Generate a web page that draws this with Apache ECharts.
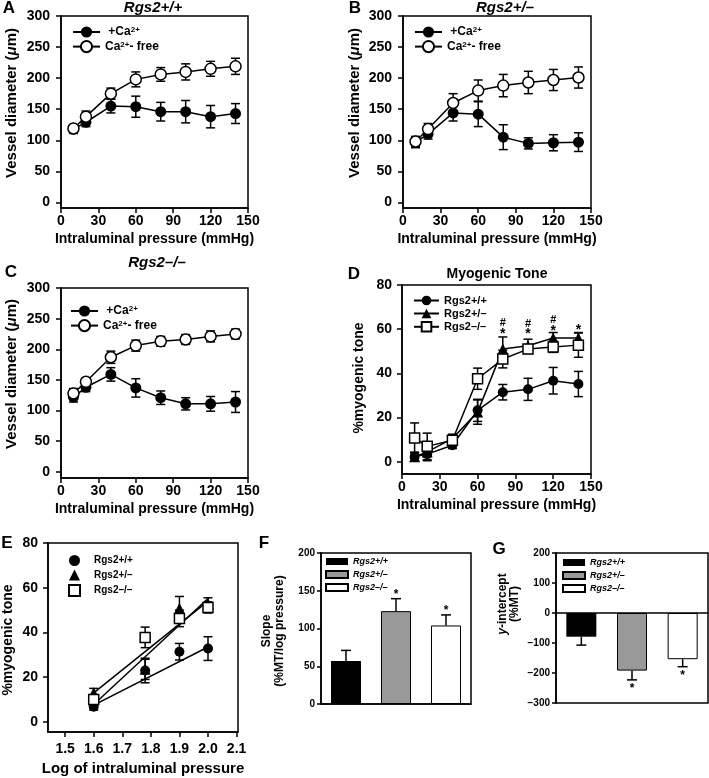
<!DOCTYPE html>
<html>
<head>
<meta charset="utf-8">
<script src="https://cdn.jsdelivr.net/npm/echarts@6/dist/echarts.min.js"></script>
<style>
html, body { margin: 0; padding: 0; background: #fff; }
#chart { width: 709px; height: 778px; }
</style>
</head>
<body>
<div id="chart"></div>
<script>
var FONT = '"Liberation Sans", Arial, Helvetica, sans-serif';

// pressure steps (mmHg) and tick labels
var pressure = [10, 20, 40, 60, 80, 100, 120, 140];
var diamTicks = [0, 50, 100, 150, 200, 250, 300];
var toneTicks = [0, 20, 40, 60, 80];
var logTicks = [1.5, 1.6, 1.7, 1.8, 1.9, 2.0, 2.1];
var groups = ['Rgs2+/+', 'Rgs2+/–', 'Rgs2–/–'];

// A: Rgs2+/+ vessel diameter
var aCa = [118, 129, 155, 154, 146, 146, 138, 143];
var aCaErr = [7, 7, 11, 17, 15, 18, 18, 16];
var aFree = [119, 138, 175, 198, 206, 210, 215, 219];
var aFreeErr = [6, 9, 9, 12, 11, 13, 12, 13];

// B: Rgs2+/-
var bCa = [97, 110, 144, 142, 105, 95, 96, 97];
var bCaErr = [9, 8, 13, 20, 20, 9, 13, 15];
var bFree = [98, 118, 160, 180, 188, 193, 197, 201];
var bFreeErr = [8, 9, 15, 17, 18, 18, 17, 17];

// C: Rgs2-/-
var cCa = [122, 138, 159, 137, 121, 111, 111, 114];
var cCaErr = [8, 7, 11, 15, 11, 10, 12, 17];
var cFree = [128, 147, 187, 206, 213, 216, 221, 225];
var cFreeErr = [8, 6, 10, 9, 8, 8, 9, 8];

// D: myogenic tone (%)
var dWT = [2.3, 3.5, 7.5, 23.3, 31.5, 32.8, 36.7, 35.2];
var dWTErr = [2, 3, 1.5, 5, 3.5, 5, 6, 5.7];
var dHet = [2.3, 4.5, 10.5, 22.5, 51, 52.5, 56, 56];
var dHetErr = [2, 2, 2, 5.5, 5.5, 3, 2.5, 2.5];
var dKO = [10.8, 7, 9.8, 37.6, 46.5, 51, 52, 52.8];
var dKOErr = [6.8, 6, 2, 4.8, 4, 2, 2.5, 5.5];
var dStarX = [80, 100, 120, 140];
var dStarY = [59.3, 59.2, 60.7, 61];
var dHashX = [80, 100, 120];
var dHashY = [62.6, 62.2, 64.4];

// E: tone vs log pressure
var eX = [1.6, 1.78, 1.9, 2.0];
var eWT = [6.8, 23, 31.4, 32.8];
var eWTErr = [1.5, 5.5, 3.7, 5.3];
var eHet = [13, 23.5, 50.8, 53];
var eHetErr = [2, 4.5, 5.3, 2.5];
var eKO = [10, 37.8, 46.3, 51.2];
var eKOErr = [2, 4.6, 3.7, 2.5];
var eFitX = [1.6, 2.0];
var eFitWT = [7.5, 33.5];
var eFitHet = [7.8, 55.2];
var eFitKO = [13, 54];

// F: slope, G: y-intercept
var fVals = [57, 123, 104];
var fErr = [14, 16.5, 14];
var fSig = [0, 1, 1];
var gVals = [-79, -192, -154];
var gErr = [28, 31, 25];
var gSig = [0, 1, 1];

var barColors = ['#000', '#999', '#fff'];

function pairs(xs, ys) {
  return xs.map(function (x, i) { return [x, ys[i]]; });
}
function triples(xs, ys, es) {
  return xs.map(function (x, i) { return [x, ys[i], es[i]]; });
}

function seg(x1, y1, x2, y2) {
  return { type: 'line', shape: { x1: x1, y1: y1, x2: x2, y2: y2 }, style: { stroke: '#000', lineWidth: 1.5 } };
}
function star(x, y, size) {
  return { type: 'text', x: x, y: y, style: { text: '*', fontSize: size, fontWeight: 'bold', fontFamily: FONT, fill: '#000', align: 'center', verticalAlign: 'middle', textAlign: 'center', textVerticalAlign: 'middle' } };
}

function errBar(params, api) {
  var x = api.value(0), y = api.value(1), e = api.value(2);
  var lo = api.coord([x, y - e]), hi = api.coord([x, y + e]);
  return { type: 'group', children: [
    seg(lo[0], lo[1], hi[0], hi[1]),
    seg(hi[0] - 4.5, hi[1], hi[0] + 4.5, hi[1]),
    seg(lo[0] - 4.5, lo[1], lo[0] + 4.5, lo[1])
  ] };
}
function errUp(params, api) {
  var i = api.value(0), v = api.value(1), e = api.value(2), s = api.value(3);
  var b = api.coord([i, v]), t = api.coord([i, v + e]);
  var ch = [seg(b[0], b[1], t[0], t[1]), seg(t[0] - 5, t[1], t[0] + 5, t[1])];
  if (s) ch.push(star(t[0], t[1] - 4, 12));
  return { type: 'group', children: ch };
}
function errDown(params, api) {
  var i = api.value(0), v = api.value(1), e = api.value(2), s = api.value(3);
  var b = api.coord([i, v]), t = api.coord([i, v - e]);
  var ch = [seg(b[0], b[1], t[0], t[1]), seg(t[0] - 5, t[1], t[0] + 5, t[1])];
  if (s) ch.push(star(t[0], t[1] + 9, 12));
  return { type: 'group', children: ch };
}

function errSeries(gi, xs, ys, es) {
  return { type: 'custom', xAxisIndex: gi, yAxisIndex: gi, data: triples(xs, ys, es),
    encode: { x: 0, y: 1 }, renderItem: errBar, z: 2, silent: true };
}
function markStyle(filled) {
  return filled ? { color: '#000', opacity: 1 } : { color: '#fff', borderColor: '#000', borderWidth: 1.5, opacity: 1 };
}
function lineSeries(name, gi, xs, ys, filled, symbol, size) {
  return { name: name, type: 'line', xAxisIndex: gi, yAxisIndex: gi, data: pairs(xs, ys),
    symbol: symbol || 'circle', symbolSize: size || 11, itemStyle: markStyle(filled),
    lineStyle: { color: '#000', width: 1.5 }, z: 3 };
}
function scatterSeries(name, gi, xs, ys, filled, symbol, size) {
  return { name: name, type: 'scatter', xAxisIndex: gi, yAxisIndex: gi, data: pairs(xs, ys),
    symbol: symbol, symbolSize: size, itemStyle: markStyle(filled), z: 4 };
}
function fitSeries(gi, ys) {
  return { type: 'line', xAxisIndex: gi, yAxisIndex: gi, data: pairs(eFitX, ys), symbol: 'none',
    lineStyle: { color: '#000', width: 1.5 }, z: 3, silent: true };
}
function textSeries(gi, xs, ys, ch, size, dy) {
  return { type: 'custom', xAxisIndex: gi, yAxisIndex: gi, data: pairs(xs, ys), z: 5, silent: true,
    renderItem: function (p, api) {
      var c = api.coord([api.value(0), api.value(1)]);
      return { type: 'text', x: c[0], y: c[1] + dy, style: { text: ch, fontSize: size, fontWeight: 'bold',
        fontFamily: FONT, fill: '#000', align: 'center', verticalAlign: 'middle', textAlign: 'center', textVerticalAlign: 'middle' } };
    } };
}
function barSeries(panel, gi, vals, k) {
  return { name: panel + '|' + groups[k], type: 'bar', xAxisIndex: gi, yAxisIndex: gi,
    data: vals.map(function (v, i) { return i === k ? v : '-'; }),
    barWidth: 30, barGap: '-100%',
    itemStyle: { color: barColors[k], borderColor: '#000', borderWidth: k === 0 ? 0 : 1 }, z: 2 };
}

// axis helper
function ax(gi, o) {
  var a = {
    gridIndex: gi, type: 'value',
    axisLine: { show: true, onZero: false, lineStyle: { color: '#000', width: 1.5 } },
    axisTick: { show: true, length: 5, lineStyle: { color: '#000', width: 1.5 } },
    axisLabel: { color: '#000', fontFamily: FONT, fontWeight: 'bold', fontSize: 14 },
    splitLine: { show: false },
    nameTextStyle: { color: '#000', fontFamily: FONT, fontWeight: 'bold', fontSize: 14 }
  };
  for (var k in o) {
    if (a[k] && typeof a[k] === 'object' && typeof o[k] === 'object' && !Array.isArray(o[k])) Object.assign(a[k], o[k]);
    else a[k] = o[k];
  }
  return a;
}
function pressureX(gi) {
  return ax(gi, { min: 0, max: 150, interval: 30, axisLabel: { margin: 6 },
    name: 'Intraluminal pressure (mmHg)', nameLocation: 'middle', nameGap: 24 });
}
function diamY(gi, min) {
  return ax(gi, { min: min, max: 300, axisTick: { customValues: diamTicks }, axisLabel: { customValues: diamTicks, margin: 11 } });
}
function toneY(gi, min) {
  return ax(gi, { min: min, max: 80, axisTick: { customValues: toneTicks }, axisLabel: { customValues: toneTicks, margin: 10 } });
}
function catX(gi, onZero) {
  return { gridIndex: gi, type: 'category', data: groups,
    axisLine: { show: true, onZero: onZero, lineStyle: { color: '#000', width: 1.5 } },
    axisTick: { show: false }, axisLabel: { show: false }, splitLine: { show: false } };
}

var baseText = { color: '#000', fontFamily: FONT, fontWeight: 'bold' };
function afterBar(n) { return n.split('|')[1]; }
function caLabel(n) {
  return n.split('|')[1] === 'ca' ? '{t| +Ca}{s|2+}' : '{t|Ca}{s|2+}{t|- free}';
}
function caLegend(p, left, top) {
  return { left: left, top: top, orient: 'vertical', padding: 0, itemGap: 2, itemWidth: 27, itemHeight: 14,
    selectedMode: false, data: [p + '|ca', p + '|free'], formatter: caLabel,
    textStyle: { color: '#000', fontFamily: FONT, fontWeight: 'bold', fontSize: 12,
      rich: {
        t: { color: '#000', fontFamily: FONT, fontWeight: 'bold', fontSize: 12 },
        s: { color: '#000', fontFamily: FONT, fontWeight: 'bold', fontSize: 8, verticalAlign: 'top' }
      } } };
}
function groupLegend(p, left, top, o) {
  var l = { left: left, top: top, orient: 'vertical', padding: 0, selectedMode: false,
    data: groups.map(function (g) { return p + '|' + g; }), formatter: afterBar,
    textStyle: Object.assign({}, baseText) };
  for (var k in o) {
    if (k === 'textStyle') Object.assign(l.textStyle, o[k]);
    else l[k] = o[k];
  }
  return l;
}

function txt(x, y, text, size, o) {
  var st = { text: text, fontSize: size, fontWeight: 'bold', fontFamily: FONT, fill: '#000',
    align: 'center', verticalAlign: 'middle', textAlign: 'center', textVerticalAlign: 'middle' };
  o = o || {};
  if (o.style) Object.assign(st, o.style);
  return { type: 'text', x: x, y: y, rotation: o.rotation || 0, style: st };
}
var ROT = Math.PI / 2;
var richY = {
  b: { fontSize: 15, fontWeight: 'bold', fontFamily: FONT, fill: '#000', color: '#000' },
  i: { fontSize: 15, fontWeight: 'bold', fontStyle: 'italic', fontFamily: FONT, fill: '#000', color: '#000' }
};
var richG = {
  b: { fontSize: 12, fontWeight: 'bold', fontFamily: FONT, fill: '#000', color: '#000' },
  i: { fontSize: 12, fontWeight: 'bold', fontStyle: 'italic', fontFamily: FONT, fill: '#000', color: '#000' }
};
var diamName = '{b|Vessel diameter (}{i|μ}{b|m)}';

var chart = echarts.init(document.getElementById('chart'));
var option = {
  backgroundColor: '#fff',
  animation: false,
  grid: [
    { left: 61, top: 16, width: 187, height: 192 },
    { left: 403, top: 16, width: 188, height: 192 },
    { left: 61, top: 288, width: 187, height: 190 },
    { left: 402, top: 285, width: 189, height: 189 },
    { left: 48, top: 543, width: 190, height: 189 },
    { left: 321, top: 553, width: 150, height: 151 },
    { left: 556, top: 553, width: 152, height: 150 }
  ].map(function (g) { return Object.assign({ show: true, borderColor: '#000', borderWidth: 1.5 }, g); }),
  xAxis: [
    pressureX(0), pressureX(1), pressureX(2), pressureX(3),
    ax(4, { min: 1.44, max: 2.105, axisTick: { customValues: logTicks },
      axisLabel: { customValues: logTicks, margin: 10, formatter: function (v) { return v.toFixed(1); } },
      name: 'Log of intraluminal pressure', nameLocation: 'middle', nameGap: 29, nameTextStyle: { fontSize: 15 } }),
    catX(5, false), catX(6, true)
  ],
  yAxis: [
    diamY(0, -9), diamY(1, -9), diamY(2, -10), toneY(3, -5.5), toneY(4, -4.5),
    ax(5, { min: 0, max: 200, interval: 50, axisTick: { length: 4 }, axisLabel: { fontSize: 10, margin: 6 } }),
    ax(6, { min: -300, max: 200, interval: 100, axisTick: { length: 4 },
      axisLabel: { fontSize: 10, margin: 6, formatter: function (v) { return v < 0 ? '−' + Math.abs(v) : String(v); } } })
  ],
  legend: [
    caLegend('A', 72, 26),
    caLegend('B', 414, 26),
    caLegend('C', 70, 305),
    groupLegend('D', 413, 295, { itemWidth: 25, itemHeight: 12, itemGap: 2, textStyle: { fontSize: 11 } }),
    groupLegend('E', 68, 555, { itemWidth: 11, itemHeight: 11, itemGap: 3.5,
      textStyle: { fontSize: 10, padding: [0, 0, 0, 9] } }),
    groupLegend('F', 325, 557, { icon: 'rect', itemWidth: 22, itemHeight: 7, itemGap: 4,
      textStyle: { fontSize: 9, fontStyle: 'italic' } }),
    groupLegend('G', 562, 558, { icon: 'rect', itemWidth: 22, itemHeight: 7, itemGap: 4,
      textStyle: { fontSize: 9, fontStyle: 'italic' } })
  ],
  series: [
    // A
    errSeries(0, pressure, aCa, aCaErr), errSeries(0, pressure, aFree, aFreeErr),
    lineSeries('A|ca', 0, pressure, aCa, true), lineSeries('A|free', 0, pressure, aFree, false),
    // B
    errSeries(1, pressure, bCa, bCaErr), errSeries(1, pressure, bFree, bFreeErr),
    lineSeries('B|ca', 1, pressure, bCa, true), lineSeries('B|free', 1, pressure, bFree, false),
    // C
    errSeries(2, pressure, cCa, cCaErr), errSeries(2, pressure, cFree, cFreeErr),
    lineSeries('C|ca', 2, pressure, cCa, true), lineSeries('C|free', 2, pressure, cFree, false),
    // D
    errSeries(3, pressure, dWT, dWTErr), errSeries(3, pressure, dHet, dHetErr), errSeries(3, pressure, dKO, dKOErr),
    lineSeries('D|' + groups[0], 3, pressure, dWT, true, 'circle', 10),
    lineSeries('D|' + groups[1], 3, pressure, dHet, true, 'triangle', 11),
    lineSeries('D|' + groups[2], 3, pressure, dKO, false, 'rect', 10),
    textSeries(3, dStarX, dStarY, '*', 14, 3),
    textSeries(3, dHashX, dHashY, '#', 11, 0),
    // E
    fitSeries(4, eFitWT), fitSeries(4, eFitHet), fitSeries(4, eFitKO),
    errSeries(4, eX, eWT, eWTErr), errSeries(4, eX, eHet, eHetErr), errSeries(4, eX, eKO, eKOErr),
    scatterSeries('E|' + groups[0], 4, eX, eWT, true, 'circle', 10),
    scatterSeries('E|' + groups[1], 4, eX, eHet, true, 'triangle', 11),
    scatterSeries('E|' + groups[2], 4, eX, eKO, false, 'rect', 10),
    // F
    barSeries('F', 5, fVals, 0), barSeries('F', 5, fVals, 1), barSeries('F', 5, fVals, 2),
    { type: 'custom', xAxisIndex: 5, yAxisIndex: 5, encode: { x: 0, y: 1 }, z: 3, silent: true,
      data: fVals.map(function (v, i) { return [i, v, fErr[i], fSig[i]]; }), renderItem: errUp },
    // G
    barSeries('G', 6, gVals, 0), barSeries('G', 6, gVals, 1), barSeries('G', 6, gVals, 2),
    { type: 'custom', xAxisIndex: 6, yAxisIndex: 6, encode: { x: 0, y: 1 }, z: 3, silent: true,
      data: gVals.map(function (v, i) { return [i, v, gErr[i], gSig[i]]; }), renderItem: errDown }
  ],
  graphic: [
    // panel letters
    txt(9, 8, 'A', 17), txt(355, 8, 'B', 17), txt(11, 272, 'C', 17), txt(354, 274, 'D', 17),
    txt(7, 543, 'E', 17), txt(264, 543, 'F', 17), txt(499, 549, 'G', 17),
    // titles
    txt(153, 8, 'Rgs2+/+', 15, { style: { fontStyle: 'italic' } }),
    txt(505, 8, 'Rgs2+/–', 15, { style: { fontStyle: 'italic' } }),
    txt(157, 263, 'Rgs2–/–', 15, { style: { fontStyle: 'italic' } }),
    txt(497, 274, 'Myogenic Tone', 14),
    // y-axis names
    txt(12, 103, diamName, 15, { rotation: ROT, style: { rich: richY } }),
    txt(355, 103, diamName, 15, { rotation: ROT, style: { rich: richY } }),
    txt(12, 374, diamName, 15, { rotation: ROT, style: { rich: richY } }),
    txt(359, 378, '%myogenic tone', 14, { rotation: ROT }),
    txt(8, 640, '%myogenic tone', 14, { rotation: ROT }),
    txt(267, 631, 'Slope', 12, { rotation: ROT }),
    txt(280, 631, '(%MT/log pressure)', 12, { rotation: ROT }),
    txt(503, 604, '{i|y}{b|-intercept}', 12, { rotation: ROT, style: { rich: richG } }),
    txt(515, 604, '(%MT)', 12, { rotation: ROT })
  ]
};
chart.setOption(option);
</script>
</body>
</html>
